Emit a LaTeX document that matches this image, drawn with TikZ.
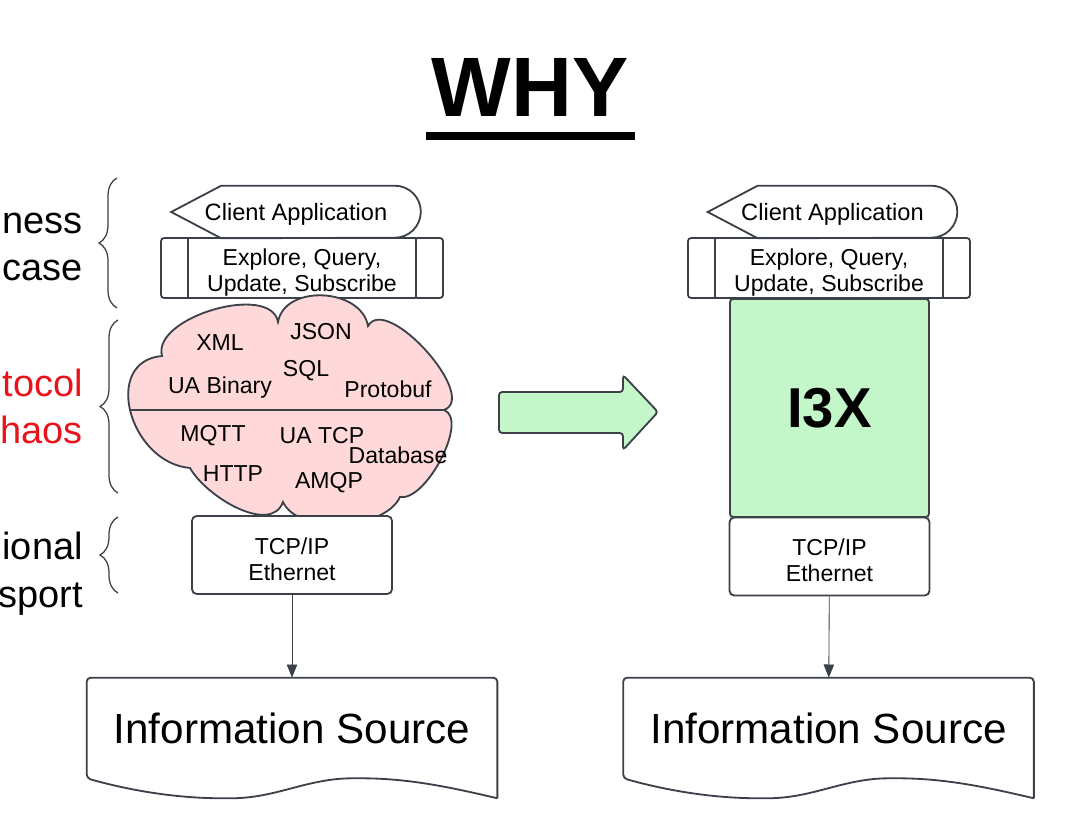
\documentclass[tikz,border=0pt]{standalone}
\usepackage{fontspec}
\setmainfont{Liberation Sans}
\usetikzlibrary{arrows.meta,positioning,calc,decorations.pathreplacing}
\definecolor{edge}{HTML}{3B4049}
\definecolor{chaosred}{HTML}{E8141B}
\definecolor{cloudpink}{HTML}{FFD9DA}
\definecolor{iiixgreen}{HTML}{C3F6C9}
% outline of the client application shape (pointed left, round right end)
\newcommand{\dispoutline}[1]{%
  \draw[ln] (#1.west) -- ($(#1.north west)+(50,0)$) -- ($(#1.north east)+(-26,0)$)
    arc[start angle=90,end angle=-90,radius=0.65cm] -- ($(#1.south west)+(50,0)$) -- cycle;}
% outline of a document shape with a wavy bottom
\newcommand{\docoutline}[1]{%
  \draw[ln,rounded corners=0.1cm] ($(#1.south east)+(0,20)$) -- (#1.north east) -- (#1.north west) -- (#1.south west)
    .. controls ($(#1.south west)+(50,14)$) and ($(#1.south west)+(95,20)$) .. ($(#1.south west)+(140,20)$)
    .. controls ($(#1.south west)+(190,20)$) and ($(#1.south west)+(220,0)$) .. ($(#1.south west)+(270,0)$)
    .. controls ($(#1.south west)+(320,0)$) and ($(#1.south west)+(360,8)$) .. ($(#1.south east)+(0,20)$);}
% the two inner bars of the process box
\newcommand{\procbars}[1]{%
  \draw[ln] ($(#1.north west)+(28,0)$) -- ($(#1.south west)+(28,0)$);
  \draw[ln] ($(#1.north east)+(-28,0)$) -- ($(#1.south east)+(-28,0)$);}

\begin{document}
\begin{tikzpicture}[x=0.025cm,y=-0.025cm,
    ln/.style={draw=edge,line width=1.3pt},
    txt/.style={font=\fontsize{16.4}{18.5}\selectfont,inner sep=0pt,align=center},
    disp/.style={txt,minimum width=6.225cm,minimum height=1.3cm,text depth=0pt,font=\fontsize{16.8}{19}\selectfont},
    proc/.style={ln,rounded corners=0.08cm,minimum width=7.05cm,minimum height=1.5cm},
    tcp/.style={ln,fill=white,rounded corners=0.12cm,minimum width=5cm,minimum height=1.95cm},
    src/.style={inner sep=0pt,minimum width=10.25cm,minimum height=2.5cm,font=\fontsize{30}{34}\selectfont},
    sidelbl/.style={anchor=base east,inner sep=0pt,font=\fontsize{27}{32}\selectfont},
    br/.style={draw=edge,line width=0.9pt,decorate,decoration={brace,amplitude=0.45cm}},
    a/.style={-{Triangle[length=3.3mm,width=2.6mm]},draw=edge,line width=0.6pt}]
    \useasboundingbox (0,0) rectangle (1074,839);

    % title
    \node[inner sep=0pt,anchor=base,font=\fontsize{60}{62}\selectfont\bfseries] (why) at (530,117) {WHY};
    \draw[line width=5pt] (426,136) -- (635,136);

    % layer labels (cut at the left edge)
    \node[sidelbl] (biz1) at (83,234) {ness};
    \node[sidelbl] (biz2) at (83,281) {case};
    \node[sidelbl,text=chaosred] (prot1) at (83,397) {tocol};
    \node[sidelbl,text=chaosred] (prot2) at (83,444) {haos};
    \node[sidelbl] (trans1) at (83,560) {ional};
    \node[sidelbl] (trans2) at (83,608) {sport};
    \draw[br] (117,308) -- (117,178);
    \draw[br] (118,493) -- (118,320);
    \draw[br] (118,593) -- (118,517);

    % left stack
    \node[disp] (client1) at (296,212) {Client Application};
    \dispoutline{client1}
    \node[proc,label={[txt,yshift=-3pt]center:{Explore, Query,\\Update, Subscribe}}] (explore1) at (302,268) {};
    \procbars{explore1}
    % protocol cloud, drawn puff by puff
    \coordinate (chaosL) at (130,410);
    \coordinate (chaosR) at (444,410);
    \draw[ln,fill=cloudpink] (162,356) to[out=105,in=100,looseness=0.85] (278,322)
      to[out=80,in=100,looseness=1.1] (368,326)
      to[out=60,in=20,looseness=0.85] (chaosR)
      to[out=-20,in=-10,looseness=0.7] (400,497)
      to[out=-115,in=-65,looseness=0.8] (283,502)
      to[out=-110,in=-60,looseness=0.9] (190,468)
      to[out=175,in=185,looseness=1.35] (162,356) -- cycle;
    \draw[ln] (chaosL) -- (chaosR);
    \node[txt] (xml) at (220,343) {XML};
    \node[txt] (json) at (321,332) {JSON};
    \node[txt] (sql) at (306,371) {SQL};
    \node[txt] (uabin) at (220,388) {UA Binary};
    \node[txt] (proto) at (388,389) {Protobuf};
    \node[txt] (mqtt) at (213,436) {MQTT};
    \node[txt] (uatcp) at (322,436) {UA TCP};
    \node[txt] (db) at (398,455) {Database};
    \node[txt] (http) at (233,474) {HTTP};
    \node[txt] (amqp) at (329,483) {AMQP};
    \node[tcp,label={[txt,yshift=-3pt]center:{TCP/IP\\Ethernet}}] (tcp1) at (292,555) {};
    \node[src] (src1) at (292,728) {Information Source};
    \docoutline{src1}
    \draw[a] (tcp1) -- (src1);

    % big arrow
    \draw[ln,fill=iiixgreen,rounded corners=0.08cm] (499,392) -- (623,392) -- (623,375) -- (658,412)
      -- (623,450) -- (623,433) -- (499,433) -- cycle;

    % right stack
    \node[disp] (client2) at (832.5,212) {Client Application};
    \dispoutline{client2}
    \node[proc,label={[txt,yshift=-3pt]center:{Explore, Query,\\Update, Subscribe}}] (explore2) at (829,268) {};
    \procbars{explore2}
    \node[ln,fill=iiixgreen,rounded corners=0.08cm,minimum width=4.975cm,minimum height=5.45cm,
      font=\fontsize{40}{44}\selectfont\bfseries] (i3x) at (829.5,408) {I3X};
    \node[tcp,label={[txt,yshift=-3pt]center:{TCP/IP\\Ethernet}}] (tcp2) at (829.5,556.5) {};
    \node[src] (src2) at (828.5,728) {Information Source};
    \docoutline{src2}
    \draw[a] (tcp2) -- (src2);
\end{tikzpicture}
\end{document}
